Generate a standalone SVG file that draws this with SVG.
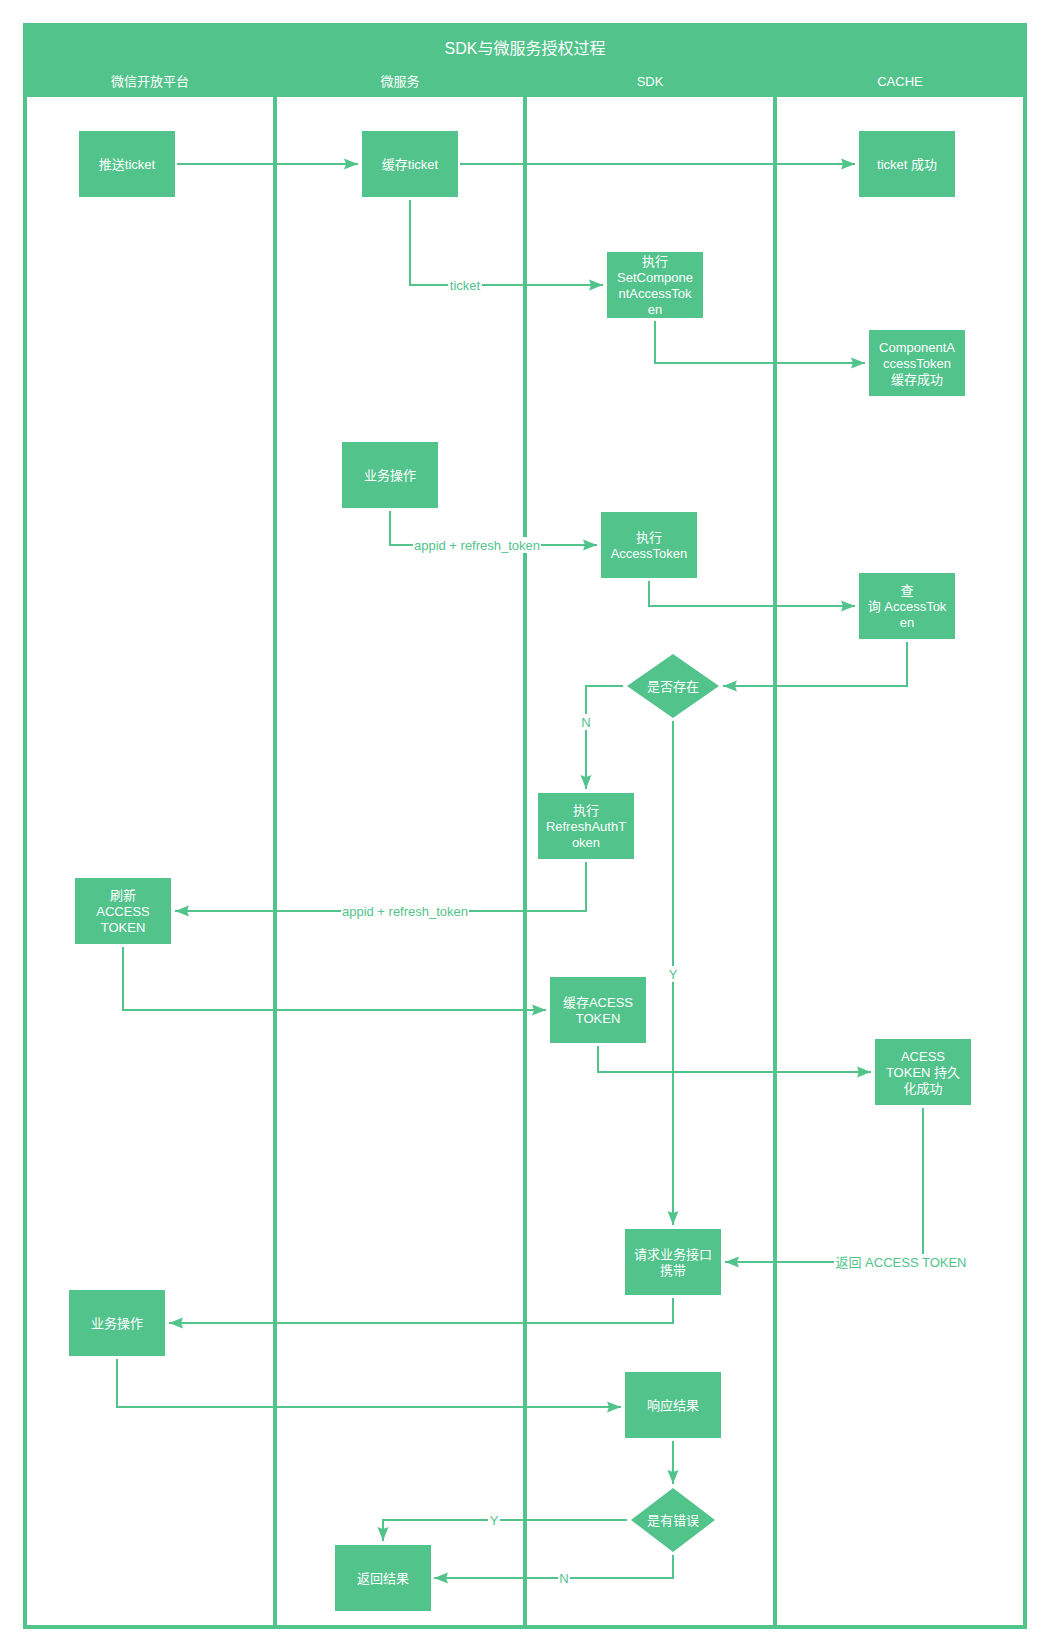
<svg xmlns="http://www.w3.org/2000/svg" width="1050" height="1652" viewBox="0 0 1050 1652">
<style>
.nd{fill:#51c38b}
.nt{fill:#ffffff;font-family:"Liberation Sans","Noto Sans CJK SC",sans-serif;font-size:13px;text-anchor:middle;dominant-baseline:central}
.hd{fill:#ffffff;font-family:"Liberation Sans","Noto Sans CJK SC",sans-serif;text-anchor:middle;dominant-baseline:central}
.ln{fill:none;stroke:#51c38b;stroke-width:2;marker-end:url(#arr)}
.lb{fill:#51c38b;font-family:"Liberation Sans","Noto Sans CJK SC",sans-serif;font-size:13px;text-anchor:middle;dominant-baseline:central}
.bg{fill:#ffffff}
</style>
<defs>
<marker id="arr" markerUnits="userSpaceOnUse" markerWidth="15" markerHeight="12" refX="14" refY="6" orient="auto">
<path d="M0,0.5 L14,6 L0,11.5 L2,6 z" fill="#51c38b"/>
</marker>
</defs>
<rect width="1050" height="1652" fill="#ffffff"/>
<g id="pool">
<rect x="23" y="23" width="1004" height="1606" fill="#51c38b"/>
<rect x="27" y="97" width="246" height="1528" fill="#ffffff"/>
<rect x="277" y="97" width="246" height="1528" fill="#ffffff"/>
<rect x="527" y="97" width="246" height="1528" fill="#ffffff"/>
<rect x="777" y="97" width="246" height="1528" fill="#ffffff"/>
<text class="hd" x="525" y="48" font-size="16">SDK与微服务授权过程</text>
<text class="hd" x="150" y="81" font-size="13">微信开放平台</text>
<text class="hd" x="400" y="81" font-size="13">微服务</text>
<text class="hd" x="650" y="81" font-size="13">SDK</text>
<text class="hd" x="900" y="81" font-size="13">CACHE</text>
</g>
<g id="connectors">
<path class="ln" d="M177,164 L358,164"/>
<path class="ln" d="M460,164 L855,164"/>
<path class="ln" d="M410,200 L410,285 L603,285"/>
<path class="ln" d="M655,321 L655,363 L865,363"/>
<path class="ln" d="M390,511 L390,545 L597,545"/>
<path class="ln" d="M649,581 L649,606 L855,606"/>
<path class="ln" d="M907,642 L907,686 L723,686"/>
<path class="ln" d="M623,686 L586,686 L586,789"/>
<path class="ln" d="M673,721 L673,1225"/>
<path class="ln" d="M586,862 L586,911 L175,911"/>
<path class="ln" d="M123,947 L123,1010 L546,1010"/>
<path class="ln" d="M598,1046 L598,1072 L871,1072"/>
<path class="ln" d="M923,1108 L923,1262 L725,1262"/>
<path class="ln" d="M673,1298 L673,1323 L169,1323"/>
<path class="ln" d="M117,1359 L117,1407 L621,1407"/>
<path class="ln" d="M673,1441 L673,1484"/>
<path class="ln" d="M627,1520 L383,1520 L383,1541"/>
<path class="ln" d="M673,1555 L673,1578 L434,1578"/>
<rect class="bg" x="448" y="277" width="34" height="16"/>
<text class="lb" x="465" y="285">ticket</text>
<rect class="bg" x="413" y="537" width="128" height="16"/>
<text class="lb" x="477" y="545">appid + refresh_token</text>
<rect class="bg" x="580" y="714" width="12" height="16"/>
<text class="lb" x="586" y="722">N</text>
<rect class="bg" x="667" y="966" width="12" height="16"/>
<text class="lb" x="673" y="974">Y</text>
<rect class="bg" x="341" y="903" width="128" height="16"/>
<text class="lb" x="405" y="911">appid + refresh_token</text>
<rect class="bg" x="834" y="1254" width="134" height="16"/>
<text class="lb" x="901" y="1262">返回 ACCESS TOKEN</text>
<rect class="bg" x="488" y="1512" width="12" height="16"/>
<text class="lb" x="494" y="1520">Y</text>
<rect class="bg" x="558" y="1570" width="12" height="16"/>
<text class="lb" x="564" y="1578">N</text>
</g>
<g id="n1"><rect class="nd" x="79" y="131" width="96" height="66"/><text class="nt" x="127" y="164">推送ticket</text></g>
<g id="n2"><rect class="nd" x="362" y="131" width="96" height="66"/><text class="nt" x="410" y="164">缓存ticket</text></g>
<g id="n3"><rect class="nd" x="859" y="131" width="96" height="66"/><text class="nt" x="907" y="164">ticket 成功</text></g>
<g id="n4"><rect class="nd" x="607" y="252" width="96" height="66"/><text class="nt"><tspan x="655" y="261">执行</tspan><tspan x="655" y="277">SetCompone</tspan><tspan x="655" y="293">ntAccessTok</tspan><tspan x="655" y="309">en</tspan></text></g>
<g id="n5"><rect class="nd" x="869" y="330" width="96" height="66"/><text class="nt"><tspan x="917" y="347">ComponentA</tspan><tspan x="917" y="363">ccessToken</tspan><tspan x="917" y="379">缓存成功</tspan></text></g>
<g id="n6"><rect class="nd" x="342" y="442" width="96" height="66"/><text class="nt" x="390" y="475">业务操作</text></g>
<g id="n7"><rect class="nd" x="601" y="512" width="96" height="66"/><text class="nt"><tspan x="649" y="537">执行</tspan><tspan x="649" y="553">AccessToken</tspan></text></g>
<g id="n8"><rect class="nd" x="859" y="573" width="96" height="66"/><text class="nt"><tspan x="907" y="590">查</tspan><tspan x="907" y="606">询 AccessTok</tspan><tspan x="907" y="622">en</tspan></text></g>
<g id="n9"><polygon class="nd" points="673,654 719,686 673,718 627,686"/><text class="nt" x="673" y="686">是否存在</text></g>
<g id="n10"><rect class="nd" x="538" y="793" width="96" height="66"/><text class="nt"><tspan x="586" y="810">执行</tspan><tspan x="586" y="826">RefreshAuthT</tspan><tspan x="586" y="842">oken</tspan></text></g>
<g id="n11"><rect class="nd" x="75" y="878" width="96" height="66"/><text class="nt"><tspan x="123" y="895">刷新</tspan><tspan x="123" y="911">ACCESS</tspan><tspan x="123" y="927">TOKEN</tspan></text></g>
<g id="n12"><rect class="nd" x="550" y="977" width="96" height="66"/><text class="nt"><tspan x="598" y="1002">缓存ACESS</tspan><tspan x="598" y="1018">TOKEN</tspan></text></g>
<g id="n13"><rect class="nd" x="875" y="1039" width="96" height="66"/><text class="nt"><tspan x="923" y="1056">ACESS</tspan><tspan x="923" y="1072">TOKEN 持久</tspan><tspan x="923" y="1088">化成功</tspan></text></g>
<g id="n14"><rect class="nd" x="625" y="1229" width="96" height="66"/><text class="nt"><tspan x="673" y="1254">请求业务接口</tspan><tspan x="673" y="1270">携带</tspan></text></g>
<g id="n15"><rect class="nd" x="69" y="1290" width="96" height="66"/><text class="nt" x="117" y="1323">业务操作</text></g>
<g id="n16"><rect class="nd" x="625" y="1372" width="96" height="66"/><text class="nt" x="673" y="1405">响应结果</text></g>
<g id="n17"><polygon class="nd" points="673,1488 715,1520 673,1552 631,1520"/><text class="nt" x="673" y="1520">是有错误</text></g>
<g id="n18"><rect class="nd" x="335" y="1545" width="96" height="66"/><text class="nt" x="383" y="1578">返回结果</text></g>
</svg>
